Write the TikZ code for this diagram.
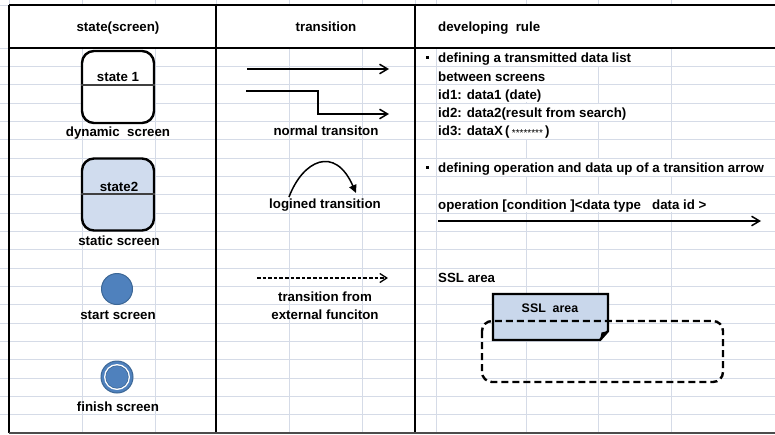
\documentclass[tikz,border=0pt]{standalone}
\usepackage{fontspec}
\setmainfont{Liberation Sans}
\usetikzlibrary{arrows.meta}
\definecolor{gridc}{HTML}{D5DBE7}
\definecolor{paleblue}{HTML}{D0DCEE}
\definecolor{notefill}{HTML}{C9D7EB}
\definecolor{dotblue}{HTML}{4F81BD}
\definecolor{dotedge}{HTML}{3C6796}
\begin{document}
\begin{tikzpicture}[x=1pt,y=-1pt,
  txt/.style={font=\fontsize{13.3}{15}\selectfont\bfseries, inner sep=0pt,
    text height=9.6pt, text depth=0pt},
  gridline/.style={gridc, line width=0.9pt},
  border/.style={black, line width=2pt},
  statebox/.style={draw=black, line width=2.4pt, rounded corners=12pt,
    minimum width=72pt, minimum height=72pt, inner sep=0pt},
  divider/.style={line width=1.1pt, black!75},
  dot/.style={circle, inner sep=0pt, fill=dotblue, draw=dotedge, line width=1pt},
  bullet/.style={fill=black, inner sep=0pt, minimum size=2.2pt},
  flow/.style={line width=1.5pt, -{Straight Barb[length=8pt,width=9.5pt,line width=1.5pt]}},
  extflow/.style={line width=1.2pt, dash pattern=on 3.6pt off 2pt,
    -{Straight Barb[length=7pt,width=9pt,line width=1.3pt]}},
]
\useasboundingbox (0,0) rectangle (775,434);
\fill[white] (0,0) rectangle (775,434);

% sheet gridlines
\foreach \k in {1,...,20}
  \draw[gridline] (0,{48+18.333*\k}) -- (775,{48+18.333*\k});
\draw[gridline] (0,5) -- (9,5);
\draw[gridline] (0,48) -- (9,48);
\foreach \gx in {82,155,289,362,436,526,598,671} {
  \draw[gridline] (\gx,48) -- (\gx,433);
  \draw[gridline] (\gx,0) -- (\gx,5);
}
\foreach \gx in {9,216,415}
  \draw[gridline] (\gx,0) -- (\gx,5);
% cells whose text runs over into the next cells hide the gridlines there
\foreach \gx/\r in {526/0,598/0,526/1,526/2,526/3,598/3,526/4,
                    526/6,598/6,671/6,526/8,598/8,671/8}
  \fill[white] (\gx-1.2,{48+18.333*\r+0.8}) rectangle (\gx+1.2,{48+18.333*(\r+1)-0.8});

% table borders
\draw[border] (9,5) -- (775,5);
\draw[border] (9,48) -- (775,48);
\draw[border] (9,5) -- (9,433);
\draw[border] (216,5) -- (216,433);
\draw[border] (415,5) -- (415,433);
\draw[black!70, line width=1.6pt] (9,433) -- (775,433);

% header row
\node[txt] (h1) at (118,27) {state(screen)};
\node[txt] (h2) at (326,27) {transition};
\node[txt, anchor=west] (h3) at (438,27) {developing\ \ rule};

% states
\node[statebox, fill=white] (s1) at (118,87) {};
\draw[divider] (s1.west |- 0,85) -- (s1.east |- 0,85);
\node[txt] (s1t) at (118,77) {state 1};
\node[txt] (s1l) at (118,131.5) {dynamic\ \ screen};

\node[statebox, fill=paleblue] (s2) at (118,194.5) {};
\draw[divider] (s2.west |- 0,194) -- (s2.east |- 0,194);
\node[txt] (s2t) at (119,187) {state2};
\node[txt] (s2l) at (119,241) {static screen};

\node[dot, minimum size=31pt] (st) at (117,289) {};
\node[txt] (stl) at (118,315) {start screen};

\node[dot, minimum size=32pt] (fin) at (117,377) {};
\node[circle, inner sep=0pt, fill=white, minimum size=26pt] (finw) at (fin) {};
\node[dot, minimum size=22.5pt, line width=0.6pt] (finc) at (fin) {};
\node[txt] (finl) at (118,407) {finish screen};

% transitions
\coordinate (a1s) at (247,69);
\coordinate (a1e) at (389,69);
\draw[flow] (a1s) -- (a1e);
\coordinate (a2s) at (246,91);
\coordinate (a2k) at (318,102);
\coordinate (a2e) at (389,114);
\draw[flow] (a2s) -| (a2k) |- (a2e);
\node[txt] (ntl) at (326,131) {normal transiton};

\coordinate (l1s) at (289,197);
\coordinate (l1e) at (356,193);
\draw[line width=1.5pt, -{Triangle[length=8pt,width=7.5pt]}]
  (l1s) .. controls (303,160) and (335,145) .. (l1e);
\node[txt] (ltl) at (325,204) {logined transition};

\coordinate (x1s) at (257,278);
\coordinate (x1e) at (388,278);
\draw[extflow] (x1s) -- (x1e);
\node[txt] (xtl1) at (325,297) {transition from};
\node[txt] (xtl2) at (325,315) {external funciton};

% developing rules
\node[bullet] (b1) at (427.5,57.5) {};
\node[txt, anchor=west] (r1) at (438,58) {defining a transmitted data list};
\node[txt, anchor=west] (r2) at (438,76.5) {between screens};
\node[txt, anchor=west] (r3) at (438,95) {id1: data1 (date)};
\node[txt, anchor=west] (r4) at (438,113) {id2: data2(result from search)};
\node[txt, anchor=west] (r5) at (438,131) {id3: dataX\,(\,{\fontsize{10}{10}\selectfont\mdseries\raisebox{-0.5pt}{********}}\,)};
\node[bullet] (b2) at (427.5,167.5) {};
\node[txt, anchor=west] (r6) at (438,168) {defining operation and data up of a transition arrow};
\node[txt, anchor=west] (r7) at (438,205) {operation [condition ]<data type\ \ \ data id >};
\coordinate (r8s) at (438,221);
\coordinate (r8e) at (761,221);
\draw[flow] (r8s) -- (r8e);
\node[txt, anchor=west] (r9) at (438,278) {SSL area};

% SSL area sample
\draw[fill=notefill, line width=2.4pt, line join=miter]
  (493,294) -- (608,294) -- (608,331) -- (600,340) -- (493,340) -- cycle;
\fill[black] (608,331) -- (600,340) -- (601.5,332.5) -- cycle;
\node[txt, font=\fontsize{12.4}{14}\selectfont\bfseries] (sslt) at (550,308) {SSL\ \ area};
\draw[line width=2.4pt, dash pattern=on 7pt off 4pt, rounded corners=10pt]
  (482,321) rectangle (723,382);
\end{tikzpicture}
\end{document}
